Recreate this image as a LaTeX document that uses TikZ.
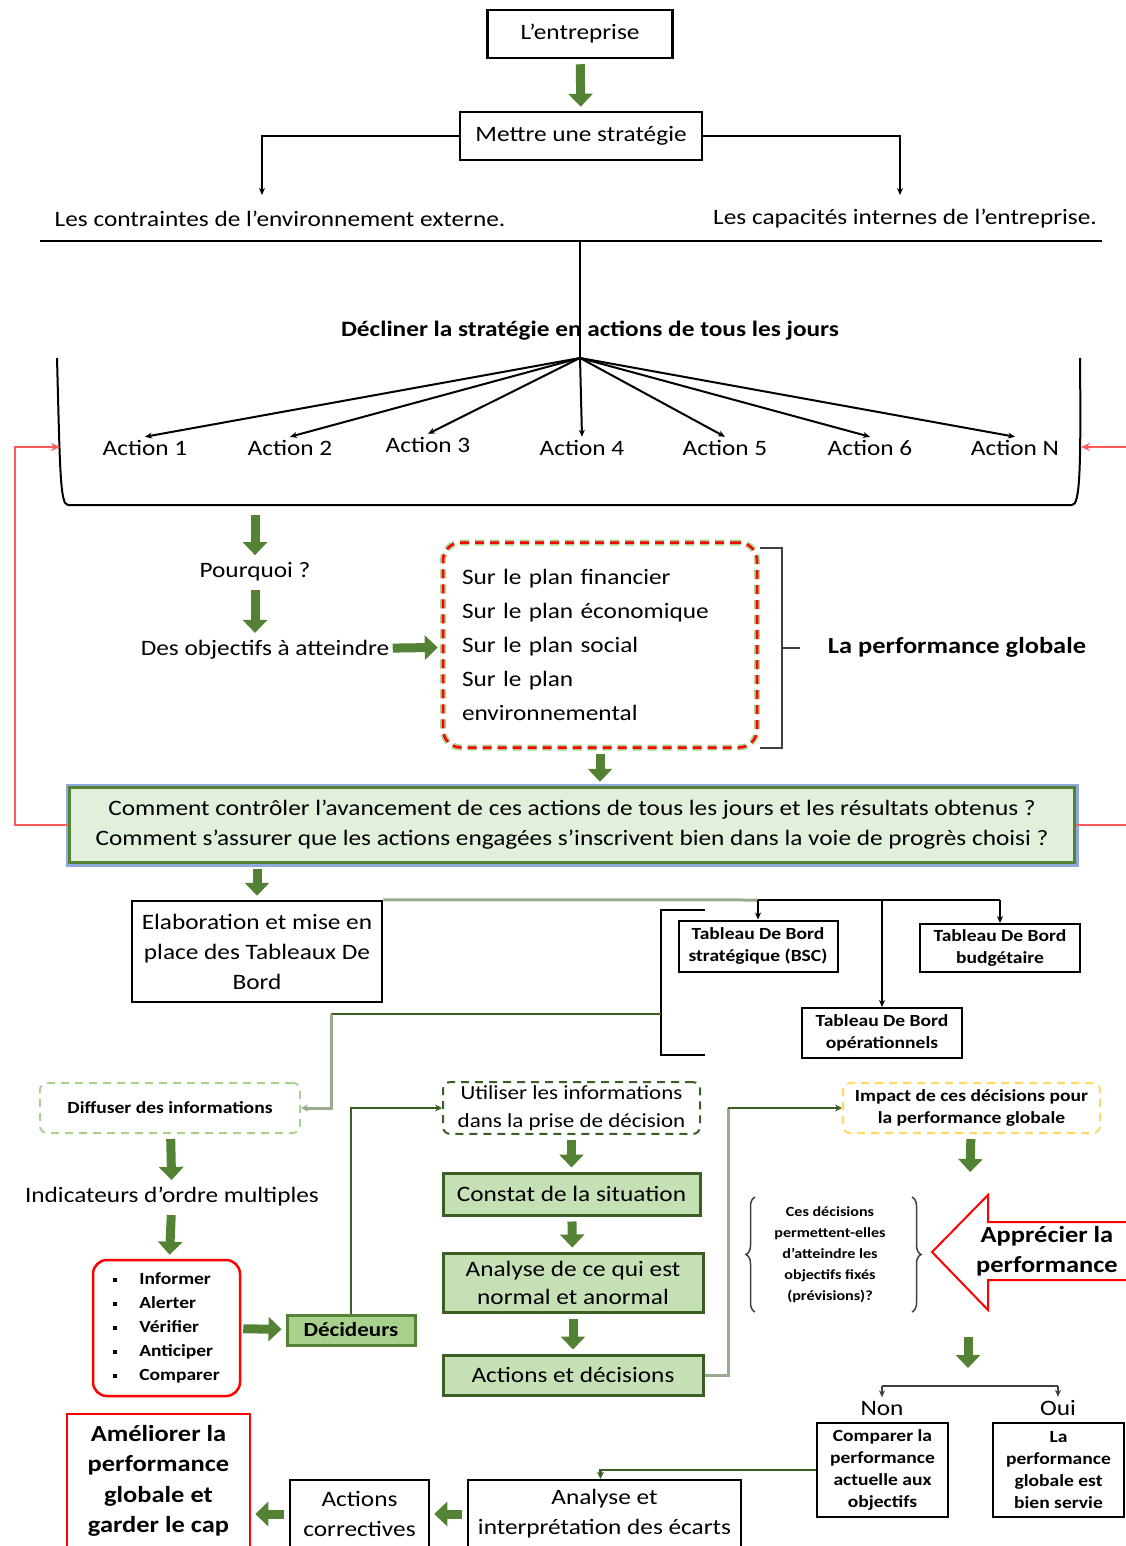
\documentclass[tikz,border=0pt]{standalone}
\usepackage{fontspec}
\setmainfont[FakeStretch=1.15]{Carlito}
\usetikzlibrary{arrows.meta,decorations.pathreplacing,shadows}

\definecolor{arrowgreen}{HTML}{548235}
\definecolor{linegreen}{HTML}{3B5E22}
\definecolor{palegreen}{HTML}{9AAA8C}
\definecolor{boxgreen}{HTML}{C5E0B4}
\definecolor{decgreen}{HTML}{A9D18E}
\definecolor{lightfill}{HTML}{E2EFDA}
\definecolor{bluerim}{HTML}{8EA9DB}
\definecolor{dashgreen}{HTML}{A9D18E}
\definecolor{dashyellow}{HTML}{FFD966}
\definecolor{loopred}{HTML}{FF5A5A}

\tikzset{
  every node/.style={font=\fontsize{22}{30}\selectfont, align=center},
  small/.style={font=\fontsize{17}{22}\selectfont\bfseries},
  box/.style={draw, line width=2.5pt},
  greenbox/.style={draw=linegreen, fill=boxgreen, line width=3pt},
  dashbox/.style={line width=2pt, rounded corners=7pt, dash pattern=on 8pt off 6pt},
  garrow/.style={draw=arrowgreen, line width=9pt, -{Triangle[width=24pt,length=13pt]}, shorten <=5pt, shorten >=4pt},
  tarrow/.style={draw, line width=2pt, -{Stealth[length=7pt,width=6pt]}},
  loopline/.style={draw=loopred, line width=2.5pt},
}

\begin{document}
\begin{tikzpicture}[x=1pt,y=-1pt]
    \useasboundingbox (0,0) rectangle (1126,1546);
    \clip (0,0) rectangle (1126,1546);

    % haut : entreprise et strategie
    \node[box, minimum width=185pt, minimum height=48pt] (ent) at (580,34) {L’entreprise};
    \node[box, minimum width=242pt, minimum height=48pt] (strat) at (581,136) {Mettre une stratégie};
    \draw[garrow] (ent) -- (strat);
    \node (contr) at (280,219) {Les contraintes de l’environnement externe.};
    \node (capa) at (905,219) {Les capacités internes de l’entreprise.};
    \coordinate (cl) at (262,195);
    \coordinate (cr) at (900,195);
    \draw[tarrow] (strat.west) -| (cl);
    \draw[tarrow] (strat.east) -| (cr);
    \draw[line width=2.5pt] (40,241) -- (1102,241);

    % actions
    \node[font=\fontsize{22}{30}\selectfont\bfseries] (decl) at (590,331) {Décliner la stratégie en actions de tous les jours};
    \coordinate (hub) at (580,358);
    \draw[line width=2pt] (580,241) -- (hub);
    \foreach \i/\x/\y/\t in {1/145/448/Action 1, 2/290/448/Action 2, 3/428/445/Action 3, 4/582/448/Action 4,
                              5/725/448/Action 5, 6/870/448/Action 6, N/1015/448/Action N}{
        \node (act\i) at (\x,\y) {\t};
        \draw[tarrow] (hub) -- (act\i.north);
    }
    \draw[line width=2pt] (57,358) .. controls (60,470) and (60,505) .. (68,505) -- (1072,505)
        .. controls (1080,505) and (1081,470) .. (1080,358);
    \coordinate (wl) at (60,447);
    \coordinate (wr) at (1081,447);

    % objectifs
    \coordinate (cb) at (255,510);
    \node (pq) at (255,572) {Pourquoi ?};
    \node (obj) at (265,650) {Des objectifs à atteindre};
    \draw[garrow] (cb) -- (pq);
    \draw[garrow] (pq) -- (pq |- obj.north);
    \node[preaction={draw=dashgreen, line width=6pt, rounded corners=18pt},
          draw=red, line width=2.5pt, dash pattern=on 9pt off 6pt, rounded corners=18pt,
          minimum width=314pt, minimum height=205pt, text width=276pt, align=left,
          font=\fontsize{22}{34}\selectfont] (plan) at (600,645)
        {Sur le plan financier\\Sur le plan économique\\Sur le plan social\\Sur le plan\\environnemental};
    \draw[garrow, shorten <=0pt] (obj) -- (plan);
    \draw[line width=2pt, black!75] (760,548) -- (782,548) -- (782,748) -- (760,748) (782,648) -- (800,648);
    \node[font=\fontsize{23}{30}\selectfont\bfseries] (perf) at (957,647) {La performance  globale};

    % controle
    \node[preaction={draw=bluerim, line width=8pt}, draw=arrowgreen, fill=lightfill, line width=3.5pt,
          minimum width=1005pt, minimum height=75pt] (ctrl) at (572,825)
        {Comment contrôler l’avancement de ces actions de tous les jours et les résultats obtenus ?\\
         Comment s’assurer que les actions engagées s’inscrivent bien dans la voie de progrès choisi ?};
    \draw[garrow] (plan) -- (plan |- ctrl.north);
    \draw[loopline, -{Stealth[length=9pt,width=8pt]}] (ctrl.west) -- (15,825) |- (wl);
    \draw[loopline] (ctrl.east) -- (1126,825);
    \draw[loopline, -{Stealth[length=9pt,width=8pt]}] (1126,447) -- (wr);

    % tableaux de bord
    \node[box, minimum width=250pt, minimum height=101pt] (elab) at (257,951.5)
        {Elaboration et mise en\\place des Tableaux De\\Bord};
    \draw[garrow] (ctrl.south -| elab) -- (elab.north);
    \node[box, line width=2pt, small, minimum width=159pt, minimum height=51pt] (tdb1) at (758,946) {Tableau De Bord\\stratégique (BSC)};
    \node[box, line width=2pt, small, minimum width=160pt, minimum height=48pt] (tdb2) at (1000,948) {Tableau De Bord\\budgétaire};
    \node[box, line width=2pt, small, minimum width=160pt, minimum height=50pt] (tdb3) at (882,1033) {Tableau De Bord\\opérationnels};
    \coordinate (tjoin) at (882,900);
    \draw[palegreen, line width=3pt] (elab.north east) -- (tdb1.north |- tjoin);
    \draw[line width=2pt] (tdb1.north |- tjoin) -- (tdb2.north |- tjoin);
    \draw[tarrow] (tdb1.north |- tjoin) -- (tdb1.north);
    \draw[tarrow] (tdb2.north |- tjoin) -- (tdb2.north);
    \draw[tarrow] (tjoin) -- (tdb3.north);
    \draw[line width=2pt] (705,910) -- (661,910) -- (661,1055) -- (705,1055);
    \coordinate (bk) at (661,1014);
    \coordinate (bend) at (331,1014);

    % diffusion
    \node[dashbox, draw=dashgreen, small, minimum width=260pt, minimum height=50pt] (diff) at (170,1108) {Diffuser des informations};
    \draw[linegreen, line width=2.5pt] (bk) -- (bend);
    \draw[palegreen, line width=3pt, -{Stealth[length=7pt,width=7pt]}] (bend) |- (diff.east);
    \node (indic) at (172,1197) {Indicateurs d’ordre multiples};
    \draw[garrow] (diff) -- (indic);
    \node[draw=red, line width=2.5pt, rounded corners=14pt, minimum width=147pt, minimum height=136pt,
          align=left, font=\fontsize{17}{24}\selectfont\bfseries] (verbs) at (166.5,1328)
        {\rule[3pt]{4pt}{4pt}\hspace{22pt}Informer\\\rule[3pt]{4pt}{4pt}\hspace{22pt}Alerter\\
         \rule[3pt]{4pt}{4pt}\hspace{22pt}Vérifier\\\rule[3pt]{4pt}{4pt}\hspace{22pt}Anticiper\\
         \rule[3pt]{4pt}{4pt}\hspace{22pt}Comparer};
    \draw[garrow] (indic) -- (verbs);
    \node[draw=arrowgreen, fill=decgreen, line width=3pt, minimum width=128pt, minimum height=30pt,
          drop shadow={opacity=0.25}, font=\fontsize{20}{24}\selectfont\bfseries] (dec) at (351,1330) {Décideurs};
    \draw[garrow, shorten <=2pt] (verbs) -- (dec);

    % decision
    \node[dashbox, draw=linegreen, minimum width=257pt, minimum height=50pt,
          font=\fontsize{20}{28}\selectfont] (use) at (571.5,1108) {Utiliser les informations\\dans la prise de décision};
    \draw[linegreen, line width=2.5pt, -{Stealth[length=7pt,width=7pt]}] (dec.north) |- (use.west);
    \node[greenbox, minimum width=257pt, minimum height=42pt] (const) at (571.5,1194) {Constat de la situation};
    \node[greenbox, minimum width=260pt, minimum height=59pt, font=\fontsize{22}{28}\selectfont] (anal) at (573,1282.5) {Analyse de  ce qui est\\normal et anormal};
    \node[greenbox, minimum width=260pt, minimum height=40pt] (actdec) at (573,1375) {Actions et décisions};
    \draw[garrow] (use) -- (const);
    \draw[garrow] (const) -- (anal);
    \draw[garrow] (anal) -- (actdec);

    % impact
    \node[dashbox, draw=dashyellow, small, minimum width=257pt, minimum height=50pt] (impact) at (971.5,1108)
        {Impact de ces décisions pour\\la performance globale};
    \coordinate (rise) at (728,1108);
    \draw[palegreen, line width=3pt] (actdec.east) -| (rise);
    \draw[linegreen, line width=2.5pt, -{Stealth[length=7pt,width=7pt]}] (rise) -- (impact.west);
    \coordinate (qtop) at (970,1176);
    \draw[garrow] (impact) -- (qtop);
    \node[font=\fontsize{14}{21}\selectfont\bfseries] (q) at (830,1255)
        {Ces décisions\\permettent-elles\\d’atteindre les\\objectifs fixés\\(prévisions)?};
    \draw[line width=1.5pt, black!75, decorate, decoration={brace, amplitude=9pt}] (755,1312) -- (755,1197);
    \draw[line width=1.5pt, black!75, decorate, decoration={brace, amplitude=9pt}] (912,1197) -- (912,1312);
    \draw[red, line width=2pt, fill=white] (1130,1222) -- (988,1222) -- (988,1195) -- (932,1252)
        -- (988,1310) -- (988,1280) -- (1130,1280);
    \node[font=\fontsize{23}{30}\selectfont\bfseries] (appr) at (1047,1251) {Apprécier la\\performance};

    % resultat
    \coordinate (qbot) at (968,1332);
    \coordinate (fk) at (968,1372);
    \draw[garrow] (qbot) -- (fk);
    \node (non) at (882,1408) {Non};
    \node (oui) at (1058,1408) {Oui};
    \coordinate (fork) at (970,1386);
    \draw[line width=2.5pt, black!75] (non.north |- fork) -- (oui.north |- fork);
    \draw[tarrow, black!75] (non.north |- fork) -- (non.north);
    \draw[tarrow, black!75] (oui.north |- fork) -- (oui.north);
    \node[box, small, minimum width=131pt, minimum height=94pt] (cmp) at (882.5,1470)
        {Comparer la\\performance\\actuelle aux\\objectifs};
    \node[box, small, minimum width=131pt, minimum height=94pt] (serv) at (1058.5,1470)
        {La\\performance\\globale est\\bien servie};

    % correction
    \node[box, minimum width=273pt, minimum height=68pt] (ana) at (604.5,1514) {Analyse et\\interprétation des écarts};
    \draw[linegreen, line width=2.5pt, -{Stealth[length=7pt,width=7pt]}] (cmp.west) -| ([xshift=-4pt]ana.north);
    \node[box, minimum width=139pt, minimum height=68pt] (corr) at (359.5,1514) {Actions\\correctives};
    \node[draw=red, line width=2.5pt, minimum width=183pt, minimum height=134pt,
          font=\fontsize{23}{30.5}\selectfont\bfseries] (amel) at (158.5,1481)
        {Améliorer la\\performance\\globale et\\garder le cap};
    \draw[garrow] (ana.west) -- (corr.east);
    \draw[garrow] (corr.west) -- (amel.east |- corr.west);
\end{tikzpicture}
\end{document}
